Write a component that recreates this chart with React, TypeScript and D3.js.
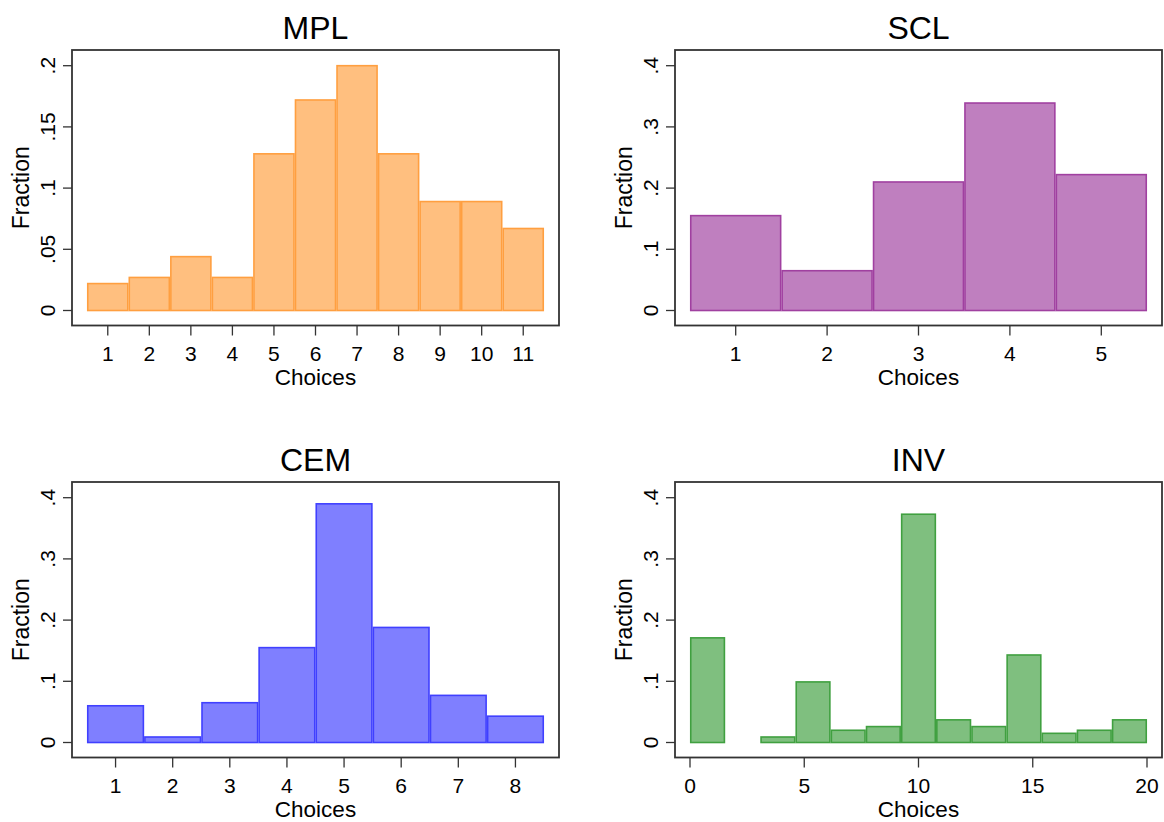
import * as d3 from "d3"

// MPL: choices 1..11
const mplChoices = [1, 2, 3, 4, 5, 6, 7, 8, 9, 10, 11]
const mplFraction = [0.022, 0.027, 0.044, 0.027, 0.128, 0.172, 0.2, 0.128, 0.089, 0.089, 0.067]

// SCL: choices 1..5
const sclChoices = [1, 2, 3, 4, 5]
const sclFraction = [0.155, 0.065, 0.21, 0.339, 0.222]

// CEM: choices 1..8
const cemChoices = [1, 2, 3, 4, 5, 6, 7, 8]
const cemFraction = [0.06, 0.009, 0.065, 0.155, 0.39, 0.188, 0.077, 0.043]

// INV: 13 bins over 0..20
const invBinCount = 13
const invFraction = [0.171, 0, 0.009, 0.099, 0.02, 0.026, 0.373, 0.037, 0.026, 0.143, 0.015, 0.02, 0.037]

const ticksSmall = [0, 0.05, 0.1, 0.15, 0.2]
const ticksSmallLabels = ["0", ".05", ".1", ".15", ".2"]
const ticksLarge = [0, 0.1, 0.2, 0.3, 0.4]
const ticksLargeLabels = ["0", ".1", ".2", ".3", ".4"]
const invTicks = [0, 5, 10, 15, 20]

const FONT = "'Liberation Sans', Arial, Helvetica, sans-serif"
const BOX_W = 487
const BOX_H = 275.5
const FRAME = "#333"

interface Bin {
  x0: number
  x1: number
  value: number
}

interface PanelProps {
  title: string
  left: number
  top: number
  bins: Bin[]
  xDomain: [number, number]
  xTicks: number[]
  yMax: number
  yTicks: number[]
  yLabels: string[]
  fill: string
  stroke: string
}

const Panel = ({ title, left, top, bins, xDomain, xTicks, yMax, yTicks, yLabels, fill, stroke }: PanelProps) => {
  const right = left + BOX_W
  const bottom = top + BOX_H
  const x = d3.scaleLinear().domain(xDomain).range([left + 15, right - 15])
  const y = d3.scaleLinear().domain([0, yMax]).range([bottom - 15, top + 15.7])

  return (
    <g fontFamily={FONT}>
      <text x={(left + right) / 2} y={top - 11} textAnchor="middle" fontSize={32} fill="#000">
        {title}
      </text>

      {bins
        .filter(b => b.value > 0)
        .map((b, i) => (
          <rect
            key={i}
            x={x(b.x0) + 0.75}
            y={y(b.value)}
            width={x(b.x1) - x(b.x0) - 1.5}
            height={y(0) - y(b.value)}
            fill={fill}
            stroke={stroke}
            strokeWidth={1.6}
          />
        ))}

      <rect x={left} y={top} width={BOX_W} height={BOX_H} fill="none" stroke={FRAME} strokeWidth={1.8} />

      {yTicks.map((t, i) => (
        <g key={"y" + i}>
          <line x1={left - 9} x2={left} y1={y(t)} y2={y(t)} stroke={FRAME} strokeWidth={1.3} />
          <text
            transform={`translate(${left - 17},${y(t)}) rotate(-90)`}
            textAnchor="middle"
            fontSize={21}
            fill="#000"
          >
            {yLabels[i]}
          </text>
        </g>
      ))}

      {xTicks.map((t, i) => (
        <g key={"x" + i}>
          <line x1={x(t)} x2={x(t)} y1={bottom} y2={bottom + 10} stroke={FRAME} strokeWidth={1.3} />
          <text x={x(t)} y={bottom + 35.5} textAnchor="middle" fontSize={21} fill="#000">
            {t}
          </text>
        </g>
      ))}

      <text x={(left + right) / 2} y={bottom + 59} textAnchor="middle" fontSize={22.5} fill="#000">
        Choices
      </text>
      <text
        transform={`translate(${left - 43},${(top + bottom) / 2}) rotate(-90)`}
        textAnchor="middle"
        fontSize={23}
        fill="#000"
      >
        Fraction
      </text>
    </g>
  )
}

const unitBins = (choices: number[], values: number[]): Bin[] =>
  choices.map((c, i) => ({ x0: c - 0.5, x1: c + 0.5, value: values[i] }))

const invWidth = 20 / invBinCount
const invBins: Bin[] = invFraction.map((v, i) => ({ x0: i * invWidth, x1: (i + 1) * invWidth, value: v }))

const App = () => {
  return (
    <svg
      width={1164}
      height={822}
      style={{ position: "absolute", left: 0, top: 0, background: "#fff" }}
    >
      <rect width={1164} height={822} fill="#fff" />
      <Panel
        title="MPL"
        left={72}
        top={50}
        bins={unitBins(mplChoices, mplFraction)}
        xDomain={[0.5, 11.5]}
        xTicks={mplChoices}
        yMax={0.2}
        yTicks={ticksSmall}
        yLabels={ticksSmallLabels}
        fill="#FFBF7F"
        stroke="#FF9F40"
      />
      <Panel
        title="SCL"
        left={675}
        top={50}
        bins={unitBins(sclChoices, sclFraction)}
        xDomain={[0.5, 5.5]}
        xTicks={sclChoices}
        yMax={0.4}
        yTicks={ticksLarge}
        yLabels={ticksLargeLabels}
        fill="#BF7FBF"
        stroke="#A040A0"
      />
      <Panel
        title="CEM"
        left={72}
        top={482}
        bins={unitBins(cemChoices, cemFraction)}
        xDomain={[0.5, 8.5]}
        xTicks={cemChoices}
        yMax={0.4}
        yTicks={ticksLarge}
        yLabels={ticksLargeLabels}
        fill="#7F7FFF"
        stroke="#4040FF"
      />
      <Panel
        title="INV"
        left={675}
        top={482}
        bins={invBins}
        xDomain={[0, 20]}
        xTicks={invTicks}
        yMax={0.4}
        yTicks={ticksLarge}
        yLabels={ticksLargeLabels}
        fill="#7FBF7F"
        stroke="#40A040"
      />
    </svg>
  )
}

export default App
